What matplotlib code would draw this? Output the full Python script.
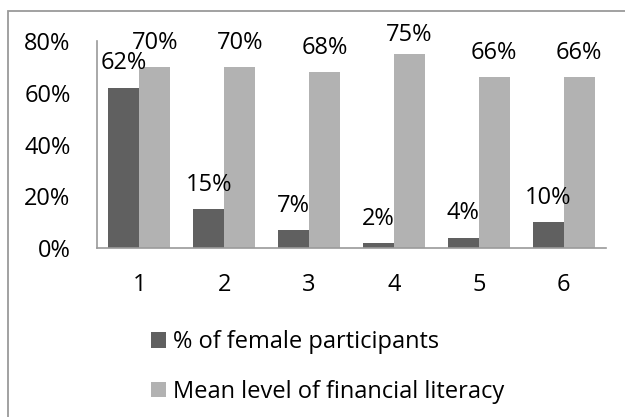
import matplotlib
matplotlib.use("Agg")
import matplotlib.pyplot as plt
from matplotlib.patches import Rectangle
from matplotlib.ticker import FuncFormatter
import numpy as np

plt.rcParams['font.family'] = ['Open Sans', 'DejaVu Sans']

categories = ["1", "2", "3", "4", "5", "6"]
female_share = [0.62, 0.15, 0.07, 0.02, 0.04, 0.10]
literacy_mean = [0.70, 0.70, 0.68, 0.75, 0.66, 0.66]
series_names = ["% of female participants", "Mean level of financial literacy"]
y_ticks = [0.0, 0.2, 0.4, 0.6, 0.8]

dark = "#606060"
light = "#b2b2b2"
axis_grey = "#9a9a9a"
fs = 17

W, H = 625, 417
fig = plt.figure(figsize=(W / 100, H / 100), dpi=100)
fig.patch.set_facecolor("white")

# outer chart frame
fig.patches.append(Rectangle((8 / W, -0.1), 1.2, 1.1 - 11 / H,
                             transform=fig.transFigure, fill=False,
                             edgecolor=axis_grey, linewidth=1.3))

ax = fig.add_axes([97 / W, 1 - 248 / H, (606 - 97) / W, (248 - 41) / H])
x = np.arange(len(categories))
bw = 0.365
b1 = ax.bar(x - bw / 2, female_share, bw, color=dark, label=series_names[0])
b2 = ax.bar(x + bw / 2, literacy_mean, bw, color=light, label=series_names[1])

ax.set_xlim(-0.5, len(categories) - 0.5)
ax.set_ylim(0, 0.8)
ax.set_yticks(y_ticks)
ax.yaxis.set_major_formatter(FuncFormatter(lambda v, _: f"{v:.0%}"))
ax.set_xticks(x)
ax.set_xticklabels(categories)
ax.tick_params(axis="both", length=0, labelsize=fs, colors="black")
ax.tick_params(axis="y", pad=19)
ax.tick_params(axis="x", pad=18)
for s in ["top", "right"]:
    ax.spines[s].set_visible(False)
for s in ["left", "bottom"]:
    ax.spines[s].set_color(axis_grey)
    ax.spines[s].set_linewidth(1.2)

# value labels above the bars
for xs, vals in ((x - bw / 2, female_share), (x + bw / 2, literacy_mean)):
    for xi, v in zip(xs, vals):
        ax.text(xi, min(v + 0.094, 0.822), f"{v:.0%}", ha="center", va="center",
                fontsize=fs, color="black", clip_on=False)

fig.legend(handles=[b1, b2], labels=series_names, loc="upper left",
           bbox_to_anchor=(151 / W, 1 - 330 / H), bbox_transform=fig.transFigure,
           frameon=False, fontsize=fs, handlelength=0.64, handleheight=0.64,
           handletextpad=0.3, labelspacing=1.1, borderpad=0, borderaxespad=0)

fig.savefig("out.png", dpi=100)
